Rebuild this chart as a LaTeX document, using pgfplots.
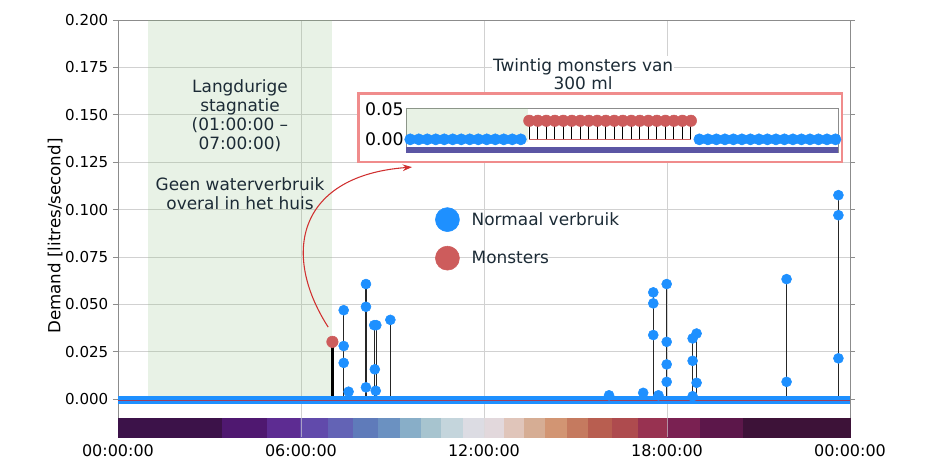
\documentclass[border=0pt]{standalone}
\usepackage{fontspec}
\setmainfont{DejaVu Sans}
\usepackage{pgfplots}
\usepackage{pgfplotstable}
\pgfplotsset{compat=1.18}
\usetikzlibrary{arrows.meta}

\definecolor{nblue}{HTML}{1E90FF}
\definecolor{mred}{HTML}{CD5C5C}
\definecolor{txt}{HTML}{1C2B36}
\definecolor{rectred}{HTML}{F08C8C}
\definecolor{arrowred}{HTML}{D03030}
\definecolor{shadeg}{RGB}{140,190,128}
\definecolor{zline}{RGB}{160,60,90}
\definecolor{insetbar}{HTML}{5B56A4}

\definecolor{cbA}{HTML}{3C1249}
\definecolor{cbB}{HTML}{4F1870}
\definecolor{cbC}{HTML}{5D2C92}
\definecolor{cbD}{HTML}{614AAB}
\definecolor{cbE}{HTML}{6363B5}
\definecolor{cbF}{HTML}{5F7BBA}
\definecolor{cbG}{HTML}{6B91C1}
\definecolor{cbH}{HTML}{88AEC8}
\definecolor{cbI}{HTML}{A7C4CF}
\definecolor{cbJ}{HTML}{C4D5DC}
\definecolor{cbK}{HTML}{DCDCE3}
\definecolor{cbL}{HTML}{E2D8DC}
\definecolor{cbM}{HTML}{E0C5BA}
\definecolor{cbN}{HTML}{D6AD94}
\definecolor{cbO}{HTML}{D29573}
\definecolor{cbP}{HTML}{C57A5F}
\definecolor{cbQ}{HTML}{B85E50}
\definecolor{cbR}{HTML}{AE4B4E}
\definecolor{cbS}{HTML}{983251}
\definecolor{cbT}{HTML}{7A2152}
\definecolor{cbU}{HTML}{5C174A}
\definecolor{cbV}{HTML}{3D1238}

\newcommand{\cb}[3]{\addplot[fill=#3, draw=#3, line width=0.2pt, forget plot] coordinates {(#1,-0.0200) (#2,-0.0200) (#2,-0.0100) (#1,-0.0100)} -- cycle;}

\pgfplotstableread{
x y
7.40 0.0469
7.40 0.0280
7.40 0.0191
7.56 0.0039
8.13 0.0607
8.13 0.0487
8.13 0.0062
8.40 0.0390
8.47 0.0390
8.42 0.0157
8.45 0.0044
8.93 0.0418
16.10 0.0020
17.22 0.0033
17.55 0.0563
17.55 0.0505
17.55 0.0338
17.72 0.0020
17.99 0.0607
17.99 0.0302
17.99 0.0183
17.99 0.0091
18.84 0.0320
18.84 0.0202
18.84 0.0015
18.97 0.0346
18.97 0.0086
21.92 0.0633
21.92 0.0091
23.62 0.1076
23.62 0.0970
23.62 0.0215
}\normaldata

\pgfplotstableread{
x y
7.03 0.0302
}\monsterdata

\begin{document}
\begin{tikzpicture}
\useasboundingbox (-88.5pt,-21pt) rectangle (620.25pt,327.75pt);
\begin{axis}[
  at={(0pt,0pt)}, anchor=south west,
  scale only axis, width=549pt, height=312.75pt,
  xmin=0, xmax=24, ymin=-0.02, ymax=0.2,
  clip=false,
  xtick={0,6,12,18,24},
  xticklabels={00:00:00,06:00:00,12:00:00,18:00:00,00:00:00},
  ytick={0,0.025,0.05,0.075,0.1,0.125,0.15,0.175,0.2},
  scaled y ticks=false,
  grid=major, major grid style={black!18, line width=0.6pt},
  axis line style={black!45, line width=0.6pt},
  tick align=outside, major tick length=3.75pt,
  xtick style={draw=none},
  ytick style={black!45, line width=0.6pt},
  yticklabel style={font=\fontsize{11.3}{13}\selectfont, /pgf/number format/.cd, fixed, fixed zerofill, precision=3, assume math mode=true},
  xticklabel style={font=\fontsize{12}{14}\selectfont, yshift=1.5pt},
  ylabel={Demand [litres/second]},
  ylabel style={at={(axis description cs:-0.086,0.482)}, anchor=center, font=\fontsize{12.5}{14}\selectfont},
  legend style={at={(axis cs:10.39,0.1013)}, anchor=north west, draw=none, fill=none,
    inner sep=0pt, row sep=10.5pt, column sep=8pt, nodes={inner sep=1pt},
    font=\fontsize{12.7}{14}\selectfont, text=txt},
  legend cell align=left,
]
% stagnation shade
\addplot[draw=none, fill=shadeg, fill opacity=0.2, forget plot] coordinates {(1,-0.0015) (7,-0.0015) (7,0.2) (1,0.2)} -- cycle;
% colour bar
\cb{0}{3.41}{cbA}
\cb{3.41}{4.89}{cbB}
\cb{4.89}{5.97}{cbC}
\cb{5.97}{6.89}{cbD}
\cb{6.89}{7.70}{cbE}
\cb{7.70}{8.53}{cbF}
\cb{8.53}{9.25}{cbG}
\cb{9.25}{9.93}{cbH}
\cb{9.93}{10.61}{cbI}
\cb{10.61}{11.30}{cbJ}
\cb{11.30}{12.00}{cbK}
\cb{12.00}{12.66}{cbL}
\cb{12.66}{13.32}{cbM}
\cb{13.32}{14.00}{cbN}
\cb{14.00}{14.71}{cbO}
\cb{14.71}{15.42}{cbP}
\cb{15.42}{16.21}{cbQ}
\cb{16.21}{17.06}{cbR}
\cb{17.06}{18.02}{cbS}
\cb{18.02}{19.08}{cbT}
\cb{19.08}{20.50}{cbU}
\cb{20.50}{24}{cbV}
% grid lines showing through the colour bar
\addplot[white!70!gray, opacity=0.6, line width=0.6pt, forget plot] coordinates {(6,-0.02) (6,-0.01)};
\addplot[white!70!gray, opacity=0.6, line width=0.6pt, forget plot] coordinates {(12,-0.02) (12,-0.01)};
\addplot[white!70!gray, opacity=0.6, line width=0.6pt, forget plot] coordinates {(18,-0.02) (18,-0.01)};
% stems
\addplot[ycomb, black!85, line width=0.9pt, forget plot] table {\normaldata};
\addplot[ycomb, black, line width=2.2pt, forget plot] table {\monsterdata};
% baseline of normal samples at zero
\addplot[nblue, line width=5.5pt, forget plot] coordinates {(0,-0.0004) (24,-0.0004)};
\addplot[zline, line width=1.1pt, forget plot] coordinates {(0,-0.0008) (24,-0.0008)};
% markers
\addplot[only marks, mark=*, mark size=3.75pt, nblue, forget plot] table {\normaldata};
\addplot[only marks, mark=*, mark size=4.3pt, mred, forget plot] table {\monsterdata};
% legend
\addlegendimage{legend image code/.code={\fill[nblue] (0pt,0pt) circle (9pt);}}
\addlegendentry{Normaal verbruik}
\addlegendimage{legend image code/.code={\fill[mred] (0pt,0pt) circle (9pt);}}
\addlegendentry{Monsters}
% annotations
\node[align=center, text=txt, font=\fontsize{12.7}{14.25}\selectfont] at (axis cs:4,0.1496) {Langdurige\\stagnatie\\(01:00:00 –\\07:00:00)};
\node[align=center, text=txt, font=\fontsize{12.7}{14.25}\selectfont] at (axis cs:4,0.1084) {Geen waterverbruik\\overal in het huis};
\node[fill=white, minimum width=136.5pt, minimum height=28.5pt, align=center, inner sep=0pt, text=txt, font=\fontsize{12.7}{13.5}\selectfont] at (axis cs:15.25,0.1712) {Twintig monsters van\\300 ml};
\draw[rectred, line width=1.9pt, fill=white] (axis cs:7.88,0.1252) rectangle (axis cs:23.73,0.1613);
\draw[arrowred, line width=0.8pt, -{Stealth[length=7pt,width=5pt]}] (axis cs:6.89,0.0380) .. controls (axis cs:5.3,0.0780) and (axis cs:5.97,0.1180) .. (axis cs:9.64,0.1224);
\end{axis}

\begin{axis}[
  at={(216pt,213.2pt)}, anchor=south west,
  scale only axis, width=324pt, height=33.3pt,
  xmin=0, xmax=50.8, ymin=-0.0223, ymax=0.0517,
  clip=false, scaled y ticks=false,
  xtick=\empty, ytick={0,0.05}, yticklabels={0.00,0.05},
  ytick style={draw=none},
  axis line style={black!45, line width=0.6pt},
  yticklabel style={font=\fontsize{13}{14}\selectfont, inner sep=1.5pt},
]
\addplot[draw=none, fill=shadeg, fill opacity=0.2] coordinates {(0,-0.004) (14.4,-0.004) (14.4,0.0517) (0,0.0517)} -- cycle;
\addplot[draw=none, fill=insetbar] coordinates {(0,-0.0223) (50.8,-0.0223) (50.8,-0.0123) (0,-0.0123)} -- cycle;
\addplot[mred, line width=0.6pt] coordinates {(14.5,0) (33.5,0)};
\addplot[ycomb, black, line width=0.7pt] coordinates {
(14.5,0.031) (15.5,0.031) (16.5,0.031) (17.5,0.031) (18.5,0.031)
(19.5,0.031) (20.5,0.031) (21.5,0.031) (22.5,0.031) (23.5,0.031)
(24.5,0.031) (25.5,0.031) (26.5,0.031) (27.5,0.031) (28.5,0.031)
(29.5,0.031) (30.5,0.031) (31.5,0.031) (32.5,0.031) (33.5,0.031)};
\addplot[only marks, mark=*, mark size=4.2pt, nblue] coordinates {
(0.5,0) (1.5,0) (2.5,0) (3.5,0) (4.5,0) (5.5,0) (6.5,0) (7.5,0) (8.5,0) (9.5,0)
(10.5,0) (11.5,0) (12.5,0) (13.5,0)
(34.5,0) (35.5,0) (36.5,0) (37.5,0) (38.5,0) (39.5,0) (40.5,0) (41.5,0) (42.5,0)
(43.5,0) (44.5,0) (45.5,0) (46.5,0) (47.5,0) (48.5,0) (49.5,0) (50.5,0)};
\addplot[only marks, mark=*, mark size=4.3pt, mred] coordinates {
(14.5,0.031) (15.5,0.031) (16.5,0.031) (17.5,0.031) (18.5,0.031)
(19.5,0.031) (20.5,0.031) (21.5,0.031) (22.5,0.031) (23.5,0.031)
(24.5,0.031) (25.5,0.031) (26.5,0.031) (27.5,0.031) (28.5,0.031)
(29.5,0.031) (30.5,0.031) (31.5,0.031) (32.5,0.031) (33.5,0.031)};
\end{axis}
\end{tikzpicture}
\end{document}
